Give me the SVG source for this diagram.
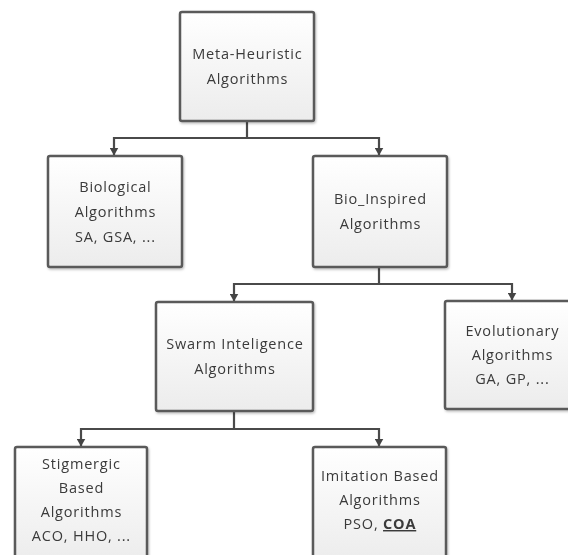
<svg xmlns="http://www.w3.org/2000/svg" width="568" height="555" viewBox="0 0 568 555">
<style>
.box{fill:url(#g);stroke:#5a5a5a;stroke-width:2.5}
.t{font-family:"Open Sans","Liberation Sans",sans-serif;font-size:14.5px;letter-spacing:0.8px;fill:#3a3a3a;text-anchor:middle}
.c{fill:none;stroke:#4a4a4a;stroke-width:2.2}
</style>
<defs>
<linearGradient id="g" x1="0" y1="0" x2="0" y2="1">
<stop offset="0" stop-color="#ffffff"/>
<stop offset="1" stop-color="#ececec"/>
</linearGradient>
<filter id="sh" x="-10%" y="-10%" width="130%" height="130%">
<feDropShadow dx="1" dy="1.5" stdDeviation="1.2" flood-color="#000" flood-opacity="0.25"/>
</filter>
<marker id="ar" markerWidth="9" markerHeight="8" refX="4.5" refY="7.5" orient="0" markerUnits="userSpaceOnUse">
<path d="M0,0 L9,0 L4.5,8 Z" fill="#444"/>
</marker>
</defs>
<rect width="568" height="555" fill="#fff"/>
<g id="connectors">
<path class="c" d="M247,121 V138 M114,138 H379"/>
<path class="c" d="M114,137 V155" marker-end="url(#ar)"/>
<path class="c" d="M379,137 V155" marker-end="url(#ar)"/>
<path class="c" d="M379,267 V284 M234,284 H512"/>
<path class="c" d="M234,283 V301" marker-end="url(#ar)"/>
<path class="c" d="M512,283 V300" marker-end="url(#ar)"/>
<path class="c" d="M234,411 V429 M81,429 H379"/>
<path class="c" d="M81,428 V446" marker-end="url(#ar)"/>
<path class="c" d="M379,428 V446" marker-end="url(#ar)"/>
</g>
<g id="meta" filter="url(#sh)">
<rect class="box" x="180" y="12" width="134" height="109" rx="2"/>
<text class="t" x="247.4" y="59">Meta-Heuristic</text>
<text class="t" x="247.4" y="84">Algorithms</text>
</g>
<g id="biological" filter="url(#sh)">
<rect class="box" x="48" y="156" width="134" height="111" rx="2"/>
<text class="t" x="115.4" y="192">Biological</text>
<text class="t" x="115.4" y="217">Algorithms</text>
<text class="t" x="115.4" y="242">SA, GSA, ...</text>
</g>
<g id="bioinspired" filter="url(#sh)">
<rect class="box" x="313" y="156" width="134" height="111" rx="2"/>
<text class="t" x="380.4" y="204">Bio_Inspired</text>
<text class="t" x="380.4" y="229">Algorithms</text>
</g>
<g id="swarm" filter="url(#sh)">
<rect class="box" x="156" y="302" width="157" height="109" rx="2"/>
<text class="t" x="234.9" y="349">Swarm Inteligence</text>
<text class="t" x="234.9" y="374">Algorithms</text>
</g>
<g id="evolutionary" filter="url(#sh)">
<rect class="box" x="445" y="301" width="134" height="108" rx="2"/>
<text class="t" x="512.4" y="336">Evolutionary</text>
<text class="t" x="512.4" y="360">Algorithms</text>
<text class="t" x="512.4" y="384">GA, GP, ...</text>
</g>
<g id="stigmergic" filter="url(#sh)">
<rect class="box" x="15" y="447" width="132" height="115" rx="2"/>
<text class="t" x="81.4" y="469">Stigmergic</text>
<text class="t" x="81.4" y="493">Based</text>
<text class="t" x="81.4" y="517">Algorithms</text>
<text class="t" x="81.4" y="541">ACO, HHO, ...</text>
</g>
<g id="imitation" filter="url(#sh)">
<rect class="box" x="313" y="447" width="133" height="115" rx="2"/>
<text class="t" x="379.9" y="481">Imitation Based</text>
<text class="t" x="379.9" y="505">Algorithms</text>
<text class="t" x="379.9" y="529">PSO, <tspan font-weight="bold" text-decoration="underline">COA</tspan></text>
</g>
</svg>
